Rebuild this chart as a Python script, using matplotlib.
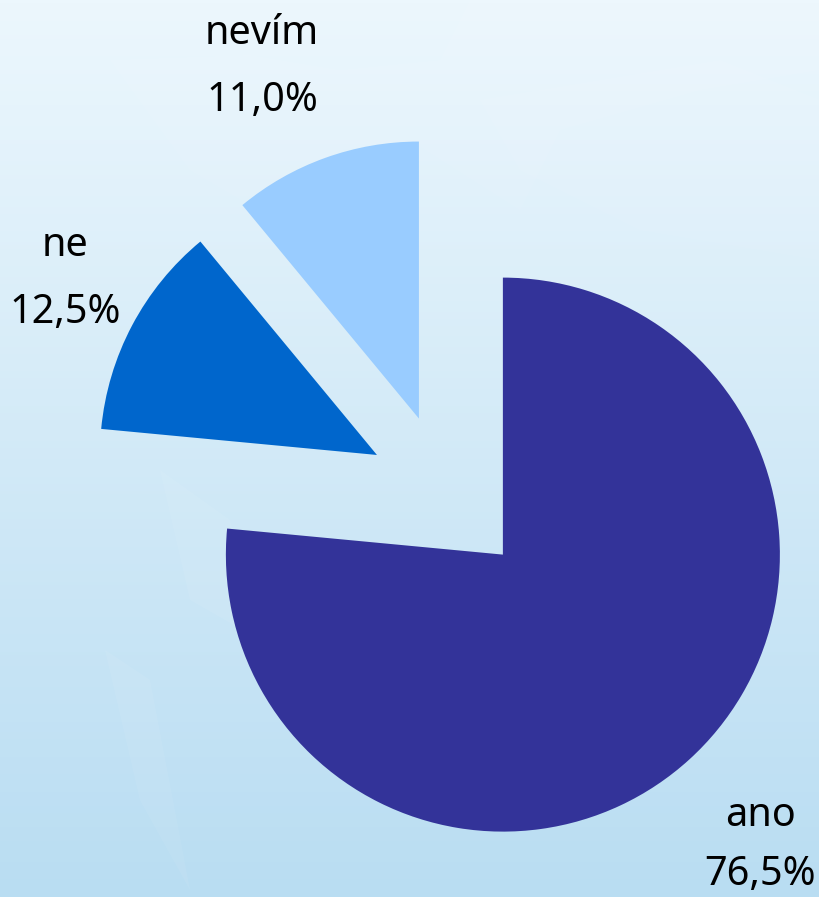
import numpy as np
import matplotlib
matplotlib.use("Agg")
import matplotlib.pyplot as plt
from matplotlib.patches import Polygon

categories = ["ano", "ne", "nevím"]
values = [76.5, 12.5, 11.0]
labels = ["76,5%", "12,5%", "11,0%"]
colors = ["#333399", "#0066CC", "#99CCFF"]
explode_px = [86, 77, 77]
name_pos = [(761, 816), (65, 246), (262, 34)]
value_pos = [(760, 875), (65, 313), (262, 101)]

W, H = 820, 897
fig = plt.figure(figsize=(W / 100, H / 100), dpi=100)
ax = fig.add_axes([0, 0, 1, 1])

grad = np.linspace(0, 1, 256)[:, None]
c0 = np.array([0xEC, 0xF7, 0xFD]) / 255
c1 = np.array([0xB9, 0xDD, 0xF2]) / 255
img = (c0[None, :] * (1 - grad[:, None]) + c1[None, :] * grad[:, None])
ax.imshow(img, extent=[0, W, 0, H], origin="upper", aspect="auto", zorder=0)

land = [
    [(110, 60), (250, 55), (340, 70), (440, 60), (470, 0), (880, 0), (880, 60), (700, 90), (560, 130), (520, 210), (410, 140), (340, 150), (250, 205), (190, 170)],
    [(160, 470), (230, 520), (260, 640), (190, 600)],
    [(105, 650), (150, 680), (190, 890), (140, 800)],
    [(480, 100), (720, 60), (820, 100), (820, 260), (640, 230), (520, 170)],
]
for pts in land:
    flipped = [(x, H - y) for x, y in pts]
    ax.add_patch(Polygon(flipped, closed=True, fc="white", ec="none", alpha=0.06, zorder=1))

cx, cy, R = 445, H - 491, 277
ax.pie(values, colors=colors, explode=explode_px, startangle=90,
       counterclock=False, radius=R, center=(cx, cy), frame=True,
       wedgeprops={"linewidth": 0, "zorder": 2})
ax.set_xlim(0, W)
ax.set_ylim(0, H)
ax.set_aspect("auto")
ax.axis("off")

font = {"family": "Noto Sans", "fontsize": 28.5, "color": "black",
        "ha": "center", "va": "center", "zorder": 3}
for name, lab, np_, vp in zip(categories, labels, name_pos, value_pos):
    ax.text(np_[0], H - np_[1], name, **font)
    ax.text(vp[0], H - vp[1], lab, **font)

fig.savefig("out.png", dpi=100)
